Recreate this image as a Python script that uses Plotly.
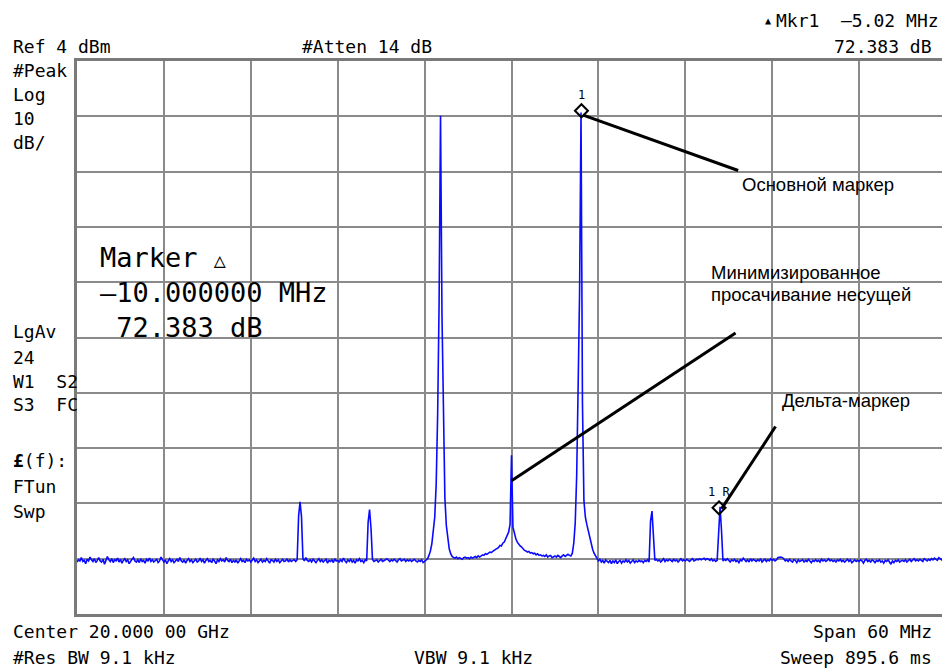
import numpy as np
import plotly.graph_objects as go

start_mhz = -30.0          # offset from 20.000 00 GHz centre
bin_mhz = 0.1              # analyzer bin width

level_dbm = [
    # -30.0 .. -29.1
    -86.6, -86.2, -86.4, -85.8, -86.5, -86.3, -86.9, -86.1, -86.4, -85.7,
    -86.2, -86.5, -86.0, -86.7, -86.3, -85.8, -86.4, -86.6, -86.1, -87.0,
    -86.3, -85.6, -86.2, -86.5, -86.0, -86.7, -86.2, -86.4, -85.9, -86.6,
    -86.1, -86.8, -86.3, -86.0, -86.5, -86.2, -86.9, -86.4, -86.1, -85.8,
    -86.4, -86.6, -86.2, -86.7, -86.0, -86.5, -86.3, -86.8, -86.1, -86.4,
    -85.9, -86.5, -86.2, -86.6, -86.3, -86.1, -86.7, -86.4, -85.7, -86.3,
    -86.6, -86.2, -86.9, -86.4, -86.0, -86.5, -86.2, -86.7, -86.3, -86.1,
    -86.5, -85.8, -86.4, -86.6, -86.2, -86.8, -86.3, -86.0, -86.5, -86.2,
    -86.7, -86.3, -86.1, -86.6, -86.4, -85.9, -86.5, -86.2, -86.8, -86.3,
    -86.0, -86.5, -86.3, -86.7, -86.1, -86.4, -86.9, -86.2, -86.5, -86.0,
    # -20.0 .. -19.1
    -86.4, -86.2, -86.6, -85.8, -86.3, -86.5, -86.1, -86.7, -86.3, -86.6,
    -86.2, -86.8, -86.4, -86.0, -86.5, -86.3, -86.7, -86.1, -86.4, -86.2,
    -86.6, -86.3, -85.9, -86.5, -86.2, -86.7, -86.4, -86.1, -86.6, -86.3,
    -86.5, -86.0, -86.4, -86.8, -86.2, -86.3, -86.6, -86.1, -86.5, -86.2,
    -86.7, -86.3, -86.1, -86.5, -86.4, -86.0, -86.6, -86.2, -86.5, -86.3,
    # -15.0 .. -14.1  (spur)
    -86.2, -86.5, -86.2, -78.3, -75.7, -78.4, -86.0, -86.4, -85.8, -86.3,
    -86.5, -86.2, -86.6, -86.1, -86.4, -86.7, -86.3, -86.0, -86.5, -86.2,
    -86.6, -86.4, -86.1, -86.8, -86.3, -86.5, -86.2, -86.7, -86.0, -86.4,
    -86.3, -86.6, -86.2, -86.5, -85.9, -86.4, -86.7, -86.2, -86.5, -86.1,
    -86.6, -86.3, -86.8, -86.2, -86.4, -86.0, -86.5, -86.3, -86.7, -86.2,
    # -10.0 .. -9.1  (spur)
    -86.4, -79.4, -77.1, -80.5, -86.1, -86.5, -86.3, -86.2, -86.6, -86.3,
    -86.1, -86.5, -86.4, -86.2, -86.0, -86.3, -86.5, -86.2, -86.4, -86.1,
    -86.3, -86.6, -86.2, -86.0, -86.4, -86.3, -86.1, -86.5, -86.2, -86.4,
    -86.2, -86.5, -86.3, -86.1, -86.4, -86.6, -86.3, -86.5, -86.2, -86.7,
    # -6.0 .. -5.1  (lower sideband)
    -86.5, -86.3, -86.0, -85.4, -84.6, -83.3, -81.3, -78.5, -72.5, -60.0,
    -40.0, -5.9, -42.0, -62.0, -75.0, -80.0, -82.8, -84.2, -85.1, -85.6,
    -85.8, -85.9, -85.7, -86.0, -85.8, -85.9, -86.1, -85.8, -85.7, -85.9,
    -85.8, -86.0, -85.7, -85.9, -85.8, -85.6, -85.8, -85.5, -85.7, -85.4,
    -85.3, -85.4, -85.1, -85.2, -84.9, -84.8, -84.9, -84.6, -84.5, -84.3,
    -84.1, -84.0, -83.6, -83.7, -83.2, -83.0, -82.4, -81.9, -81.2, -79.8,
    # 0.0 .. 0.9  (carrier leakage)
    -67.3, -80.3, -81.6, -82.4, -83.0, -83.4, -83.7, -83.9, -84.3, -84.5,
    -84.6, -84.8, -84.7, -85.0, -84.9, -85.1, -85.0, -85.3, -85.1, -85.4,
    -85.3, -85.5, -85.4, -85.6, -85.3, -85.7, -85.5, -85.4, -85.8, -85.6,
    -85.5, -85.7, -85.4, -85.6, -85.8, -85.5, -85.3, -85.6, -85.4, -85.2,
    # 4.0 .. 4.9  (upper sideband)
    -85.4, -85.5, -85.0, -83.2, -79.5, -71.0, -55.0, -38.0, -5.3, -58.0,
    -75.5, -78.5, -79.8, -81.0, -82.3, -83.4, -84.3, -85.0, -85.5, -85.9,
    -86.4, -86.1, -86.6, -86.3, -86.8, -86.2, -86.5, -86.7, -86.3, -86.9,
    -86.4, -86.7, -86.2, -86.9, -86.5, -86.3, -86.8, -86.4, -86.6, -86.2,
    -86.6, -86.3, -86.8, -86.5, -86.2, -86.7, -86.4, -86.6, -86.3, -86.5,
    # 9.0 .. 9.9  (spur)
    -86.4, -86.7, -86.3, -86.5, -86.2, -86.6, -79.2, -77.4, -81.5, -86.3,
    -86.1, -86.4, -86.2, -86.6, -86.3, -86.0, -86.5, -86.2, -86.4, -86.1,
    -86.3, -86.5, -86.1, -86.4, -86.2, -86.6, -86.3, -86.0, -86.4, -86.2,
    -86.4, -86.1, -86.3, -86.5, -86.2, -86.0, -86.4, -86.3, -86.1, -86.2,
    -86.0, -86.2, -86.1, -85.9, -86.2, -86.0, -86.1, -86.3, -86.0, -86.4,
    # 14.0 .. 14.9  (spur, delta marker)
    -86.2, -86.5, -86.3, -80.6, -76.6, -80.9, -86.4, -86.1, -86.3, -86.0,
    -86.3, -86.6, -86.2, -86.4, -86.1, -86.5, -86.3, -86.7, -86.2, -86.4,
    -85.9, -86.3, -86.5, -86.2, -86.6, -86.0, -86.4, -86.1, -86.3, -86.5,
    -86.2, -86.4, -86.0, -86.6, -86.3, -86.1, -86.5, -86.2, -86.4, -86.0,
    -86.3, -86.1, -86.4, -86.2, -85.8, -85.7, -85.7, -85.8, -86.0, -86.4,
    -86.2, -86.5, -86.1, -86.4, -86.6, -86.2, -86.3, -86.7, -86.2, -86.5,
    # 20.0 .. 20.9
    -86.4, -86.2, -86.6, -86.3, -86.5, -86.1, -86.4, -86.7, -86.3, -86.5,
    -86.2, -86.5, -86.3, -86.6, -86.1, -86.4, -86.2, -86.5, -86.3, -86.0,
    -86.4, -86.2, -86.5, -86.3, -86.6, -86.2, -86.4, -86.1, -86.5, -86.3,
    -86.6, -86.3, -86.1, -86.5, -86.2, -86.7, -86.4, -86.2, -86.5, -86.3,
    -86.5, -86.2, -86.4, -86.8, -86.3, -86.1, -86.5, -86.3, -86.6, -86.2,
    -86.4, -86.7, -86.3, -86.5, -86.2, -86.6, -86.4, -86.8, -86.3, -86.5,
    -86.2, -86.6, -87.0, -86.4, -86.7, -86.3, -86.5, -86.2, -86.6, -86.4,
    -86.3, -86.5, -86.2, -86.6, -86.4, -86.1, -86.5, -86.3, -86.0, -86.4,
    -86.2, -86.4, -86.1, -86.3, -86.5, -86.0, -86.2, -86.4, -86.1, -86.3,
    -86.0, -86.2, -85.9, -86.1, -86.3, -85.8, -86.0, -86.2, -85.9, -86.1,
    # 30.0
    -86.0,
]
assert len(level_dbm) == 601
freq_mhz = np.round(start_mhz + bin_mhz * np.arange(len(level_dbm)), 2)

marker_freq = [4.83, 14.33]
marker_level = [-5.0, -76.8]
marker_names = ["1", "1\u00a0R"]

ref_level = 4          # dBm
db_per_div = 10
span_mhz = 60

left_labels = ["#Peak", "Log", "10", "dB/", "LgAv", "24", "W1\u00a0\u00a0S2",
               "S3\u00a0\u00a0FC", "<b>£</b>(f):", "FTun", "Swp"]

# ---------------- layout helpers (pixel -> paper) ----------------
L, T, R, B, W, H = 77, 61, 0, 54, 942, 668
PW, PH = W - L - R, H - T - B
MONO = "DejaVu Sans Mono"
SANS = "Arial, Liberation Sans, sans-serif"
px_per_mhz = 86.9 / 6


def xp(px):
    return (px - L) / PW


def yp(py):
    return (H - B - py) / PH


def ann(text, x, y, size=18, xanchor="left", family=MONO, align="left"):
    return dict(text=text, x=xp(x), y=yp(y), xref="paper", yref="paper",
                xanchor=xanchor, yanchor="middle", showarrow=False, align=align,
                font=dict(family=family, size=size, color="black"))


fig = go.Figure()
fig.add_trace(go.Scatter(x=freq_mhz, y=level_dbm, mode="lines",
                         line=dict(color="#0a0aff", width=1.6),
                         hoverinfo="skip", showlegend=False))
fig.add_trace(go.Scatter(x=marker_freq, y=marker_level, mode="markers",
                         marker=dict(symbol="diamond-open", size=10,
                                     color="black", line=dict(width=2, color="black")),
                         hoverinfo="skip", showlegend=False))

annotations = []
for name, f, lv in zip(marker_names, marker_freq, marker_level):
    annotations.append(dict(text=name, x=f, y=lv, xref="x", yref="y", yshift=16,
                            showarrow=False, font=dict(family=MONO, size=12, color="black")))

# header / footer texts
annotations += [
    ann("Ref 4 dBm", 11, 46),
    ann("#Atten 14 dB", 300, 46),
    ann("<span style='font-size:10px'>▲</span>", 768, 20, xanchor="center"),
    ann("Mkr1\u00a0\u00a0–5.02 MHz", 941, 20, xanchor="right"),
    ann("72.383 dB", 934, 46, xanchor="right"),
    ann("Center 20.000 00 GHz", 11, 631),
    ann("Span 60 MHz", 934, 631, xanchor="right"),
    ann("#Res BW 9.1 kHz", 11, 657),
    ann("VBW 9.1 kHz", 473, 657, xanchor="center"),
    ann("Sweep 895.6 ms", 934, 657, xanchor="right"),
]
left_y = [70, 94, 118, 142, 331, 357, 381, 404, 460, 486, 511]
for txt, yy in zip(left_labels, left_y):
    annotations.append(ann(txt, 11, yy))

# big marker readout
annotations += [
    ann("Marker <span style='font-size:20px'>△</span>", 98, 257, size=27),
    ann("–10.000000 MHz", 98, 292, size=27),
    ann("\u00a072.383 dB", 98, 327, size=27),
]

# russian callouts
annotations += [
    ann("Основной маркер", 740, 184, size=18.5, family=SANS),
    ann("Минимизированное", 709, 272, size=18.5, family=SANS),
    ann("просачивание несущей", 709, 294, size=18.5, family=SANS),
    ann("Дельта-маркер", 780, 400, size=18.5, family=SANS),
]

shapes = []
# white label boxes (cover the graticule)
for x0, y0, x1, y1 in [(738, 173, 942, 207), (706, 259, 930, 378), (762, 391, 930, 428),
                       (99, 237, 246, 272), (99, 272, 329, 298), (99, 298, 268, 349)]:
    shapes.append(dict(type="rect", xref="paper", yref="paper", x0=xp(x0), x1=xp(x1),
                       y0=yp(y1), y1=yp(y0), fillcolor="white", line=dict(width=0),
                       layer="between"))

# leader lines (data coordinates)
for (fa, la, fb, lb) in [(4.95, -5.8, 15.65, -15.8), (0.0, -71.9, 15.47, -45.2),
                         (14.5, -77.0, 18.23, -62.1)]:
    shapes.append(dict(type="line", xref="x", yref="y", x0=fa, y0=la, x1=fb, y1=lb,
                       line=dict(color="black", width=3), layer="above"))

x_end = start_mhz + PW / px_per_mhz
fig.update_layout(
    width=W, height=H, margin=dict(l=L, r=R, t=T, b=B, pad=0),
    paper_bgcolor="white", plot_bgcolor="white",
    showlegend=False, annotations=annotations, shapes=shapes,
    xaxis=dict(range=[start_mhz, x_end], tick0=start_mhz, dtick=span_mhz / 10,
               showgrid=True, gridcolor="#8a8a8a", gridwidth=2, zeroline=False,
               showticklabels=False, ticks="", showline=True, mirror=True,
               linecolor="#7a7a7a", linewidth=3, fixedrange=True),
    yaxis=dict(range=[ref_level - 10 * db_per_div, ref_level], tick0=ref_level,
               dtick=db_per_div, showgrid=True, gridcolor="#8a8a8a", gridwidth=2,
               zeroline=False, showticklabels=False, ticks="", showline=True,
               mirror=False, linecolor="#7a7a7a", linewidth=3, fixedrange=True),
)

fig.write_html("out.html", config={"displayModeBar": False},
               post_script="document.body.style.margin='0';"
                           "document.body.style.padding='0';"
                           "document.body.style.overflow='hidden';")
